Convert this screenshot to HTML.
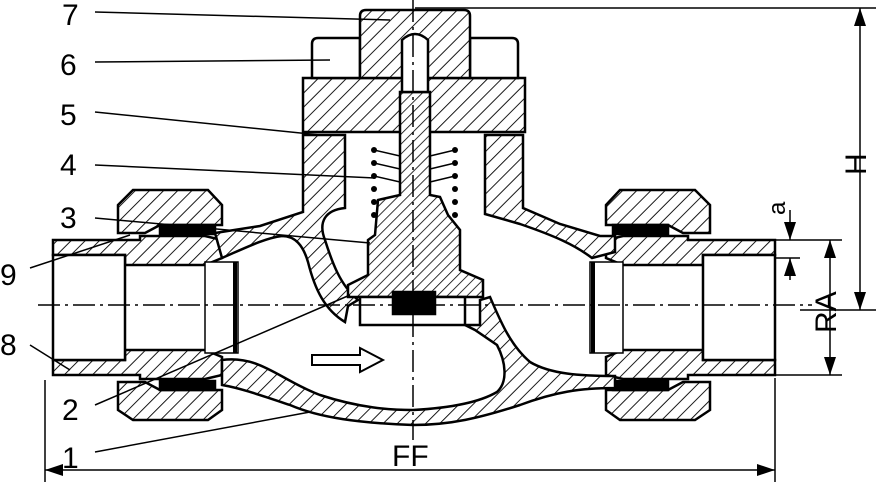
<!DOCTYPE html>
<html><head><meta charset="utf-8"><style>
html,body{margin:0;padding:0;background:#fff;}
svg{display:block;}
text{font-family:"Liberation Sans",sans-serif;font-size:30px;fill:#000;}
</style></head><body>
<svg width="879" height="485" viewBox="0 0 879 485" xmlns="http://www.w3.org/2000/svg">
<defs>
<pattern id="h" width="10" height="10" patternUnits="userSpaceOnUse" patternTransform="rotate(45)">
<rect width="10" height="10" fill="#fff"/><line x1="0" y1="0" x2="0" y2="10" stroke="#000" stroke-width="1.8"/></pattern>
<pattern id="h2" width="10" height="10" patternUnits="userSpaceOnUse" patternTransform="rotate(-45)">
<rect width="10" height="10" fill="#fff"/><line x1="0" y1="0" x2="0" y2="10" stroke="#000" stroke-width="1.8"/></pattern>
<pattern id="hs" width="7" height="7" patternUnits="userSpaceOnUse" patternTransform="rotate(45)">
<rect width="7" height="7" fill="#fff"/><line x1="0" y1="0" x2="0" y2="7" stroke="#000" stroke-width="1.6"/></pattern>
<marker id="ar" markerWidth="12" markerHeight="8" refX="12" refY="4" orient="auto"><path d="M0,0 L12,4 L0,8 z"/></marker>
<marker id="al" markerWidth="12" markerHeight="8" refX="0" refY="4" orient="auto"><path d="M12,0 L0,4 L12,8 z"/></marker>
<g id="end">
<path d="M53,240 L140,240 L140,236 L205,236 L222,240 L222,258 L205,265 L125,265 L125,255 L53,255 Z"/>
<path d="M53,375 L140,375 L140,379 L205,379 L222,375 L222,357 L205,350 L125,350 L125,360 L53,360 Z"/>
<rect x="53" y="255" width="72" height="105" fill="#fff"/>
<path d="M118,205 L133,190 L208,190 L222,205 L222,225 L160,225 L145,233 L118,233 Z"/>
<path d="M118,382 L145,382 L160,390 L222,390 L222,410 L208,420 L133,420 L118,410 Z"/>
<rect x="205" y="262" width="33" height="91" fill="#fff" stroke-width="1.5"/>
<line x1="235" y1="262" x2="235" y2="353" stroke-width="4"/>
<rect x="160" y="225" width="55" height="9" fill="#000"/>
<rect x="160" y="381" width="55" height="9" fill="#000"/>
</g>
</defs>
<g stroke="#000" stroke-width="2.5" fill="url(#h)">
<use href="#end"/>
<g transform="translate(828,0) scale(-1,1)" fill="url(#h2)"><use href="#end"/></g>
<!-- upper left shell -->
<path d="M215,233 L260,226 L303,212 L303,135 L345,135 L345,208 C325,210 318,222 325,240 C332,262 340,285 358,300 L348,306 L345,322 C325,310 315,290 308,262 C303,245 295,236 282,236 C265,238 245,248 222,258 Z"/>
<!-- upper right shell -->
<path d="M485,135 L523,135 L523,208 L560,224 L600,236 L615,236 L615,252 L592,258 C575,245 555,236 520,224 L485,214 Z"/>
<!-- lower shell with partition -->
<path d="M465,325 L480,325 L480,300 L490,297 C500,320 510,345 530,362 C550,374 580,376 615,376 L615,388 C580,388 555,392 520,405 C480,418 450,425 413,425 C360,423 320,418 290,405 C260,395 240,388 222,385 L222,360 C260,355 280,380 320,395 C360,408 390,410 413,410 C450,408 480,402 497,392 C508,382 506,362 497,345 L475,330 Z"/>
<!-- bonnet flange -->
<path d="M303,78 L525,78 L525,132 L303,132 Z"/>
<path d="M312,78 L312,44 Q312,38 318,38 L360,38 L360,78 Z" fill="#fff"/>
<path d="M470,78 L470,38 L512,38 Q518,38 518,44 L518,78 Z" fill="#fff"/>
<path d="M360,78 L360,16 Q360,10 366,10 L464,10 Q470,10 470,16 L470,78 Z"/>
<!-- stem/disk -->
<path d="M400,92 L430,92 L430,195 L440,197 L448,215 L460,230 L460,270 L483,280 L483,297 L348,297 L348,285 L368,275 L368,240 L375,235 L378,200 L400,195 Z" fill="url(#hs)"/>
<path d="M402,92 L402,40 Q415,28 428,40 L428,92 Z" fill="#fff"/>
<rect x="360" y="297" width="105" height="28" fill="#fff"/>
<rect x="393" y="292" width="42" height="22" fill="#000"/>
</g>
<g fill="#000">
<circle cx="374" cy="150" r="3"/><circle cx="374" cy="163" r="3"/><circle cx="374" cy="176" r="3"/><circle cx="374" cy="189" r="3"/><circle cx="374" cy="202" r="3"/><circle cx="374" cy="215" r="3"/>
<circle cx="455" cy="150" r="3"/><circle cx="455" cy="163" r="3"/><circle cx="455" cy="176" r="3"/><circle cx="455" cy="189" r="3"/><circle cx="455" cy="202" r="3"/><circle cx="455" cy="215" r="3"/>
</g>
<g stroke="#000" stroke-width="1.5">
<line x1="374" y1="150" x2="400" y2="156"/><line x1="374" y1="163" x2="400" y2="169"/><line x1="374" y1="176" x2="400" y2="182"/>
<line x1="430" y1="156" x2="455" y2="150"/><line x1="430" y1="169" x2="455" y2="163"/><line x1="430" y1="182" x2="455" y2="176"/>
</g>
<path d="M312,355 L360,355 L360,348 L383,360 L360,372 L360,365 L312,365 Z" fill="#fff" stroke="#000" stroke-width="2"/>
<g stroke="#000" stroke-width="1.5" stroke-dasharray="22,5,3,5" fill="none">
<line x1="38" y1="305" x2="812" y2="305"/><line x1="413" y1="0" x2="413" y2="440"/></g>
<g stroke="#000" stroke-width="1.5" fill="none">
<line x1="95" y1="12" x2="390" y2="20"/><line x1="95" y1="62" x2="330" y2="60"/>
<line x1="95" y1="112" x2="320" y2="135"/><line x1="95" y1="165" x2="375" y2="178"/>
<line x1="95" y1="218" x2="370" y2="243"/><line x1="30" y1="268" x2="130" y2="235"/>
<line x1="30" y1="345" x2="70" y2="370"/><line x1="95" y1="405" x2="350" y2="295"/>
<line x1="95" y1="452" x2="310" y2="412"/>
<line x1="45" y1="380" x2="45" y2="482"/><line x1="775" y1="378" x2="775" y2="482"/>
<line x1="45" y1="470" x2="775" y2="470" marker-start="url(#al)" marker-end="url(#ar)"/>
<line x1="415" y1="8" x2="876" y2="8"/><line x1="800" y1="310" x2="876" y2="310"/>
<line x1="860" y1="8" x2="860" y2="310" marker-start="url(#al)" marker-end="url(#ar)"/>
<line x1="775" y1="240" x2="842" y2="240"/><line x1="775" y1="375" x2="842" y2="375"/>
<line x1="775" y1="258" x2="800" y2="258"/>
<line x1="830" y1="240" x2="830" y2="375" marker-start="url(#al)" marker-end="url(#ar)"/>
<line x1="790" y1="210" x2="790" y2="240" marker-end="url(#ar)"/>
<line x1="790" y1="280" x2="790" y2="258" marker-end="url(#ar)"/>
</g>
<text x="62" y="25">7</text><text x="60" y="75">6</text><text x="60" y="125">5</text>
<text x="60" y="175">4</text><text x="60" y="228">3</text><text x="0" y="285">9</text>
<text x="0" y="355">8</text><text x="62" y="420">2</text><text x="62" y="468">1</text>
<text x="392" y="466">FF</text>
<text transform="translate(866,175) rotate(-90)">H</text>
<text transform="translate(836,333) rotate(-90)">RA</text>
<text transform="translate(785,215) rotate(-90)" style="font-size:24px">a</text>
</svg>
</body></html>
